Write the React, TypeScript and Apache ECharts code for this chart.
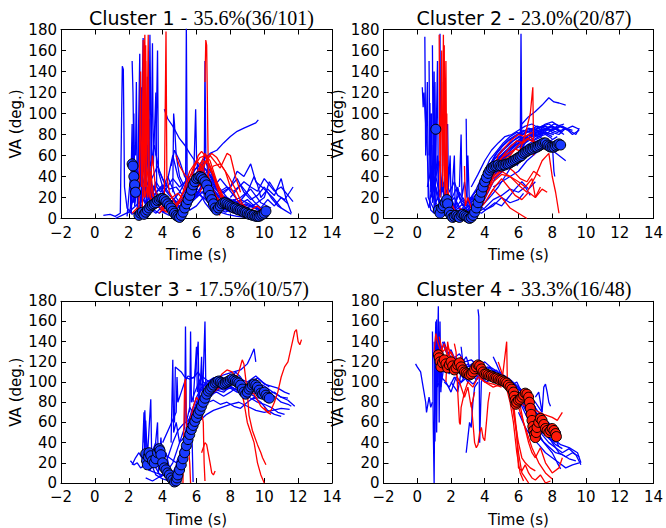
import React, { useEffect, useRef } from 'react';
import * as echarts from 'echarts';

// ---------- labels ----------
const clusterNames = ['Cluster 1', 'Cluster 2', 'Cluster 3', 'Cluster 4'];
const clusterStats = ['35.6%(36/101)', '23.0%(20/87)', '17.5%(10/57)', '33.3%(16/48)'];
const xLabel = 'Time (s)';
const yLabel = 'VA (deg.)';

// ---------- Cluster 1 (flat x,y lists) ----------
const c1Mean = [2.2,52, 2.25,50, 2.3,40, 2.35,32, 2.4,25, 2.6,3, 2.7,5, 2.8,6, 2.9,4, 3.0,6, 3.1,8, 3.2,10, 3.3,12, 3.4,13, 3.5,14, 3.6,15, 3.7,17, 3.8,18, 3.9,19, 4.0,19, 4.1,18, 4.2,16, 4.3,14, 4.4,12, 4.5,10, 4.6,7, 4.7,5, 4.8,3, 4.9,2, 5.0,1, 5.1,3, 5.2,6, 5.3,10, 5.4,14, 5.5,18, 5.6,22, 5.7,27, 5.8,32, 5.9,35, 6.0,38, 6.1,39, 6.2,40, 6.3,39, 6.4,37, 6.5,35, 6.6,32, 6.7,27, 6.8,22, 6.9,18, 7.0,14, 7.1,10, 7.2,8, 7.3,10, 7.4,12, 7.5,14, 7.6,15, 7.7,15, 7.8,14, 7.9,13, 8.0,12, 8.1,11, 8.2,10, 8.3,10, 8.4,9, 8.5,8, 8.6,8, 8.7,7, 8.8,6, 8.9,6, 9.0,5, 9.1,4, 9.2,4, 9.3,3, 9.4,3, 9.5,2, 9.6,2, 9.7,2, 9.8,3, 9.9,4, 10.0,5, 10.1,7];
const c1Blue = [
  [0.5,3, 0.9,4, 1.2,2, 1.5,5, 1.62,145, 1.68,142, 1.75,30, 1.9,10, 2.2,4, 2.6,8, 3.0,3],
  [2.2,150, 2.25,120, 2.3,60, 2.4,35, 2.6,20, 2.8,28, 3.0,15, 3.3,8, 3.7,18, 4.1,22, 4.5,10, 5.0,4, 5.6,12, 6.0,25, 6.5,30, 7.0,18, 7.5,10, 8.0,6],
  [2.5,8, 2.65,157, 2.7,40, 2.85,172, 2.9,60, 3.0,20, 3.2,95, 3.25,15, 3.5,30, 3.8,12, 4.2,18, 4.8,8, 5.5,20, 6.0,35, 6.5,28, 7.0,10],
  [3.3,20, 3.4,167, 3.45,50, 3.6,120, 3.65,30, 3.9,25, 4.3,40, 4.8,20, 5.2,10, 5.8,30, 6.2,45, 6.8,30, 7.4,15, 8.0,8, 8.6,5],
  [4.1,104, 4.3,95, 4.6,88, 5.0,76, 5.3,70, 5.6,62, 5.9,55, 6.2,48, 6.5,40, 6.9,30, 7.3,22, 7.8,18, 8.3,12, 8.8,10],
  [5.8,45, 6.1,50, 6.4,56, 6.8,62, 7.2,65, 7.6,72, 8.0,78, 8.4,83, 8.8,86, 9.2,89, 9.5,91, 9.65,94],
  [5.35,10, 5.4,185, 5.45,30, 5.6,15, 6.0,22, 6.4,35, 6.8,25, 7.2,12, 7.8,8, 8.4,4],
  [5.8,20, 5.95,104, 6.0,60, 6.1,40, 6.3,50, 6.6,35, 7.0,20, 7.5,12],
  [6.45,20, 6.5,150, 6.55,60, 6.7,40, 7.0,30, 7.5,22, 8.0,18, 8.5,15, 9.0,12, 9.5,10, 10.0,8],
  [8.5,15, 9.0,25, 9.4,40, 9.6,32, 9.8,20, 10.2,28, 10.6,22, 11.0,38, 11.3,18, 11.6,5],
  [9.0,10, 9.5,14, 10.0,20, 10.3,35, 10.5,30, 10.8,22, 11.2,18, 11.5,25, 11.7,30],
  [7.5,25, 8.0,30, 8.4,45, 8.8,40, 9.2,52, 9.5,35, 10.0,28, 10.5,20, 11.0,10],
  [1.9,2, 2.1,40, 2.15,5, 2.3,70, 2.35,12, 2.5,30, 2.7,110, 2.75,20, 3.0,35, 3.3,10, 3.8,5, 4.5,15, 5.0,25, 5.5,40, 6.0,30, 6.5,15, 7.0,5],
  [3.0,40, 3.1,135, 3.15,60, 3.3,50, 3.5,70, 3.8,45, 4.2,30, 4.6,60, 4.9,40, 5.3,25, 5.8,38, 6.3,52, 6.8,40, 7.3,25, 7.8,14, 8.3,10, 9.0,5],
  [4.5,50, 4.7,65, 5.0,55, 5.3,40, 5.7,30, 6.1,44, 6.5,55, 6.9,42, 7.3,30, 7.8,20, 8.4,15, 9.0,10, 9.6,5, 10.2,3],
  [2.8,0, 3.2,10, 3.6,5, 4.0,12, 4.5,8, 5.0,15, 5.5,28, 6.0,36, 6.5,32, 7.0,20, 7.6,12, 8.2,18, 8.8,10, 9.4,6, 10.0,4],
  [3.6,60, 3.7,160, 3.75,45, 4.0,30, 4.4,22, 4.9,15, 5.4,20, 5.9,30, 6.4,45, 6.9,35, 7.4,22, 8.0,16, 8.6,20, 9.2,28, 9.8,15, 10.4,10],
  [2.0,5, 2.3,20, 2.6,45, 2.7,10, 2.9,55, 3.0,25, 3.2,40, 3.5,22, 3.9,30, 4.3,18, 4.7,12, 5.1,20, 5.5,32, 5.9,42, 6.3,38, 6.7,28, 7.1,18, 7.6,10, 8.2,6, 8.8,4],
  [1.2,0, 1.6,3, 2.0,6, 2.4,12, 2.8,18, 3.2,14, 3.6,25, 4.0,32, 4.4,24, 4.8,15, 5.2,8, 5.6,18, 6.0,28, 6.4,40, 6.8,34, 7.2,20, 7.6,14, 8.0,10, 8.5,7, 9.0,5, 9.5,4],
  [2.4,60, 2.45,130, 2.5,30, 2.6,15, 2.9,10, 3.3,25, 3.7,12, 4.1,6, 4.6,10, 5.1,16, 5.6,24, 6.1,34, 6.6,30, 7.1,16, 7.6,8, 8.1,12, 8.6,18, 9.1,14, 9.6,8, 10.1,5],
  [3.2,75, 3.25,175, 3.3,90, 3.35,20, 3.6,35, 4.0,25, 4.4,12, 4.9,6, 5.4,12, 5.9,22, 6.4,30, 6.9,24, 7.4,14, 7.9,9, 8.4,6],
  [2.9,48, 2.95,160, 3.0,30, 3.1,70, 3.2,18, 3.5,10, 3.9,15, 4.3,8, 4.7,3],
  [6.0,20, 6.3,32, 6.6,45, 6.9,40, 7.2,30, 7.6,24, 8.0,30, 8.4,38, 8.8,25, 9.2,18, 9.6,22, 10.0,30, 10.4,20, 10.8,12, 11.2,8, 11.6,4],
  [4.6,25, 4.65,100, 4.7,90, 4.8,60, 5.0,40, 5.3,30, 5.7,26, 6.1,35, 6.5,38, 6.9,28, 7.3,20, 7.8,16, 8.3,12],
  [5.0,5, 5.4,10, 5.8,18, 6.2,26, 6.6,22, 7.0,12, 7.4,6, 7.8,4, 8.4,2, 9.0,1, 9.6,3, 10.2,2],
  [7.0,30, 7.4,38, 7.8,30, 8.2,26, 8.6,32, 9.0,24, 9.4,16, 9.8,10, 10.2,18, 10.6,12, 11.0,20, 11.4,14],
  [2.1,10, 2.2,90, 2.25,15, 2.5,25, 2.8,40, 3.1,20, 3.4,32, 3.8,20, 4.2,10, 4.6,18, 5.0,10, 5.4,24, 5.8,30, 6.2,22, 6.6,18, 7.0,26, 7.4,20, 7.8,12],
  [2.7,30, 2.75,125, 2.8,15, 3.0,50, 3.05,10, 3.3,36, 3.7,50, 4.0,38, 4.4,28, 4.8,30, 5.2,22, 5.6,14, 6.0,20, 6.4,26, 6.8,18, 7.2,10, 7.7,6, 8.3,10, 8.9,14, 9.5,10, 10.0,6],
  [3.4,10, 3.8,20, 4.2,28, 4.6,38, 5.0,30, 5.4,36, 5.8,44, 6.2,52, 6.6,46, 7.0,36, 7.4,26, 7.8,30, 8.2,22, 8.6,14, 9.0,18, 9.4,12, 9.8,8],
  [2.3,100, 2.35,30, 2.45,50, 2.55,8, 2.8,20, 3.2,6, 3.6,16, 4.0,6, 4.4,3, 4.8,10, 5.2,14, 5.6,8, 6.0,12, 6.4,20, 6.8,14, 7.2,6],
  [8.0,20, 8.4,28, 8.8,35, 9.2,30, 9.6,26, 10.0,38, 10.3,32, 10.6,26, 11.0,30, 11.4,22, 11.7,16],
];
const c1Red = [
  [2.6,10, 2.7,140, 2.75,30, 2.95,175, 3.0,60, 3.1,20, 3.3,45, 3.5,15, 4.0,8, 4.5,5],
  [3.0,30, 3.15,120, 3.2,20, 3.4,60, 3.6,25, 4.0,15, 4.5,10, 5.0,5],
  [4.1,20, 4.2,178, 4.25,40, 4.4,25, 4.8,12, 5.3,20, 5.8,35, 6.2,50, 6.5,62, 6.8,55, 7.2,35, 7.6,20, 8.0,10],
  [6.5,130, 6.55,170, 6.6,165, 6.7,40, 6.9,30, 7.2,20, 7.6,12, 8.0,8],
  [5.0,10, 5.5,25, 5.8,45, 6.1,60, 6.3,64, 6.6,58, 6.9,45, 7.2,30, 7.5,18, 8.0,8],
  [5.4,5, 5.8,20, 6.2,40, 6.5,52, 6.8,60, 7.1,54, 7.4,48, 7.8,62, 8.0,60, 8.3,40, 8.6,25],
  [4.8,60, 5.0,50, 5.3,42, 5.6,36, 6.0,30, 6.4,35, 6.8,28, 7.2,20, 7.8,10, 8.5,5, 9.2,3, 10.0,1],
  [3.8,5, 4.3,15, 4.8,10, 5.2,25, 5.6,45, 6.0,55, 6.4,48, 6.7,30, 7.0,10, 7.4,3],
  [2.2,5, 2.5,10, 2.8,8, 3.0,165, 3.05,50, 3.3,20, 3.6,12],
  [2.9,20, 3.0,150, 3.05,30, 3.15,175, 3.2,40, 3.4,22, 3.8,14, 4.2,6, 4.6,10, 5.0,18, 5.4,30, 5.8,48, 6.2,58, 6.5,60, 6.8,50, 7.1,38, 7.5,22, 8.0,12],
  [5.6,15, 5.9,30, 6.2,46, 6.4,55, 6.7,52, 7.0,40, 7.3,26, 7.7,14, 8.1,6],
  [6.2,25, 6.6,40, 7.0,50, 7.4,52, 7.7,45, 8.0,30, 8.4,18, 8.8,10, 9.2,8, 9.6,12, 10.0,6],
  [3.9,8, 4.4,18, 4.9,24, 5.4,15, 5.9,28, 6.4,34, 6.9,26, 7.4,14, 7.9,8],
  [2.8,40, 2.85,170, 2.9,100, 2.95,20, 3.1,30, 3.4,12, 3.8,20, 4.2,12, 4.6,6],
  [6.0,30, 6.3,48, 6.6,56, 6.9,62, 7.2,58, 7.5,50, 7.9,40, 8.3,28, 8.7,14, 9.1,8],
];

// ---------- Cluster 2 ----------
const c2Mean = [1.1,85, 1.25,8, 1.35,5, 1.45,10, 1.55,12, 1.65,15, 1.75,18, 1.8,14, 1.9,6, 2.0,3, 2.1,1, 2.2,2, 2.3,3, 2.4,2, 2.5,1, 2.6,3, 2.7,4, 2.8,3, 2.9,2, 3.0,1, 3.1,0, 3.2,1, 3.3,3, 3.4,6, 3.5,10, 3.6,15, 3.7,20, 3.8,25, 3.9,30, 4.0,35, 4.1,39, 4.2,43, 4.3,46, 4.4,48, 4.5,49, 4.6,50, 4.7,50, 4.8,51, 4.9,50, 5.0,50, 5.1,51, 5.2,51, 5.3,52, 5.4,52, 5.5,53, 5.6,54, 5.7,55, 5.8,56, 5.9,57, 6.0,58, 6.1,59, 6.2,60, 6.3,62, 6.4,63, 6.5,64, 6.6,65, 6.7,66, 6.8,66, 6.9,67, 7.0,68, 7.1,68, 7.2,69, 7.3,70, 7.4,71, 7.5,72, 7.6,72, 7.7,70, 7.8,69, 7.9,68, 8.0,68, 8.1,68, 8.2,69, 8.3,70, 8.4,71, 8.5,70];
const c2Blue = [
  [0.3,125, 0.35,106, 0.4,120, 0.5,90, 0.6,60, 0.7,20, 0.8,8, 1.0,5, 1.3,10, 1.6,3, 2.0,8, 2.5,4, 3.0,12, 3.5,20, 4.0,35, 4.5,50, 5.0,60, 5.5,66, 6.0,72, 6.5,78, 7.0,82, 7.5,85, 8.0,84, 8.5,88],
  [0.45,173, 0.5,60, 0.6,130, 0.65,20, 0.8,15, 1.0,8, 1.3,5, 1.8,2, 2.3,6, 2.8,3, 3.3,10, 3.8,28, 4.3,45, 4.8,58, 5.3,65, 5.8,70, 6.3,74, 6.8,78, 7.3,80, 7.8,85, 8.3,82, 8.8,86, 9.2,80, 9.6,84],
  [0.9,165, 0.95,30, 1.0,140, 1.05,10, 1.2,150, 1.25,20, 1.4,5, 1.7,12, 2.0,3, 2.5,8, 3.0,2, 3.4,5, 3.8,15, 4.2,30, 4.6,45, 5.0,55, 5.5,62, 6.0,70, 6.5,76, 7.0,80, 7.5,82, 8.0,78],
  [1.35,176, 1.4,20, 1.5,40, 1.6,10, 1.8,25, 2.0,8, 2.3,15, 2.6,5, 3.0,3, 3.5,12, 4.0,30, 4.5,40, 5.0,50, 5.5,56, 6.0,62, 6.5,70, 7.0,75, 7.4,78],
  [2.9,95, 2.95,20, 3.0,60, 3.1,10, 3.3,20, 3.6,8, 4.0,15, 4.4,22, 4.8,30, 5.2,40, 5.6,50, 6.0,60, 6.4,72, 6.8,80, 7.2,78, 7.6,82, 8.1,80],
  [5.9,50, 6.1,55, 6.15,176, 6.2,65, 6.3,70, 6.5,75, 6.8,80, 7.2,82, 7.6,86, 8.0,84, 8.4,87],
  [6.2,90, 6.6,97, 7.0,102, 7.4,108, 7.8,115, 8.1,111, 8.4,110, 8.8,108],
  [3.5,5, 4.0,10, 4.5,18, 5.0,22, 5.5,28, 6.0,25, 6.4,30, 6.7,22],
  [4.5,30, 5.0,35, 5.5,40, 6.0,45, 6.5,55, 7.0,62, 7.5,68, 8.0,73, 8.1,45, 8.15,40],
  [2.0,10, 2.2,60, 2.25,5, 2.4,30, 2.6,15, 3.0,8, 3.5,18, 4.0,40, 4.5,55, 5.0,65, 5.5,72, 6.0,78, 6.5,82, 7.0,85, 7.5,88, 8.0,86, 8.5,84],
  [0.6,30, 0.8,45, 1.0,25, 1.2,60, 1.3,15, 1.5,20, 1.8,10, 2.2,5, 2.6,2, 3.0,0, 3.4,3, 3.8,12, 4.2,25, 4.6,38, 5.0,44, 5.5,50, 6.0,55, 6.5,60, 7.0,64, 7.5,68, 8.0,65, 8.4,60, 8.8,55],
  [1.5,50, 1.6,110, 1.65,30, 1.8,8, 2.2,3, 2.8,6, 3.3,2, 3.6,8, 4.0,22, 4.4,38, 4.8,48, 5.2,58, 5.6,64, 6.0,68, 6.4,72, 6.8,76, 7.2,80, 7.6,84, 8.0,88, 8.4,85],
  [2.4,5, 2.8,12, 3.2,20, 3.6,15, 4.0,8, 4.5,12, 5.0,20, 5.5,15, 6.0,18, 6.3,24],
  [0.7,150, 0.75,40, 0.85,100, 0.9,15, 1.1,30, 1.4,12, 1.9,20, 2.3,8, 2.7,14, 3.1,4, 3.6,18, 4.1,36, 4.6,52, 5.1,62, 5.6,70, 6.1,76, 6.6,80, 7.1,84, 7.6,80, 8.1,86, 8.6,82],
  [0.7,60, 0.75,110, 0.8,25, 1.0,40, 1.2,18, 1.5,30, 1.8,12, 2.2,20, 2.6,8, 3.0,5, 3.4,12, 3.8,30, 4.2,48, 4.6,60, 5.0,68, 5.4,74, 5.8,78, 6.2,82, 6.6,86, 7.0,84, 7.4,88, 7.8,90, 8.2,86, 8.6,88, 9.0,84, 9.4,80, 9.6,86],
  [1.0,70, 1.05,130, 1.1,40, 1.3,25, 1.6,35, 1.9,15, 2.3,10, 2.7,20, 3.1,10, 3.5,16, 3.9,32, 4.3,50, 4.7,62, 5.1,70, 5.5,76, 5.9,80, 6.3,84, 6.7,82, 7.1,86, 7.5,84, 7.9,88, 8.3,84, 8.7,80],
  [2.5,30, 2.6,80, 2.65,20, 2.8,35, 3.0,15, 3.3,22, 3.7,30, 4.1,42, 4.5,55, 4.9,62, 5.3,68, 5.7,74, 6.1,78, 6.5,84, 6.9,86, 7.3,82, 7.7,86, 8.1,90, 8.5,88, 8.9,84],
  [0.5,20, 0.7,10, 0.9,35, 1.1,15, 1.4,8, 1.7,18, 2.0,12, 2.4,5, 2.8,10, 3.2,6, 3.6,20, 4.0,40, 4.4,52, 4.8,56, 5.2,62, 5.6,68, 6.0,74, 6.4,78, 6.8,74, 7.2,78, 7.6,80, 8.0,76],
  [3.0,20, 3.4,8, 3.8,5, 4.2,10, 4.6,15, 5.0,12, 5.4,20, 5.8,28, 6.2,35, 6.6,28, 7.0,35],
  [4.0,30, 4.4,42, 4.8,52, 5.2,60, 5.6,66, 6.0,72, 6.4,76, 6.8,78, 7.2,84, 7.6,88, 8.0,82, 8.4,80, 8.8,86, 9.2,84],
  [1.8,90, 1.85,30, 1.95,60, 2.0,20, 2.2,12, 2.5,25, 2.8,15, 3.1,8, 3.5,6, 3.9,20, 4.3,35, 4.7,44, 5.1,48, 5.5,56, 5.9,62, 6.3,66, 6.7,70, 7.1,74, 7.5,76, 7.9,74, 8.3,78],
  [0.8,100, 0.85,20, 0.95,70, 1.0,10, 1.2,20, 1.5,6, 1.9,14, 2.3,28, 2.7,12, 3.1,18, 3.5,28, 3.9,42, 4.3,56, 4.7,64, 5.1,72, 5.5,78, 5.9,82, 6.3,80, 6.7,84, 7.1,88, 7.5,86, 7.9,84, 8.3,88, 8.7,90],
  [1.1,40, 1.3,55, 1.5,25, 1.7,40, 1.9,25, 2.2,35, 2.5,20, 2.9,12, 3.3,20, 3.7,25, 4.1,38, 4.5,48, 4.9,55, 5.3,60, 5.7,58, 6.1,64, 6.5,68, 6.9,70, 7.3,74],
  [3.2,30, 3.6,42, 4.0,55, 4.4,65, 4.8,72, 5.2,78, 5.6,80, 6.0,84, 6.4,88, 6.8,90, 7.2,86, 7.6,90, 8.0,92, 8.4,88, 8.8,85, 9.2,88, 9.6,85],
];
const c2Red = [
  [1.3,175, 1.35,20, 1.45,160, 1.5,30, 1.6,165, 1.65,10, 1.75,100, 1.8,20, 2.0,8, 2.5,3, 3.0,5, 3.5,10, 4.0,30, 4.5,45, 5.0,55, 5.5,60, 6.0,70, 6.5,76, 7.0,72],
  [1.55,130, 1.6,40, 1.7,150, 1.75,30, 1.9,20, 2.2,8, 2.6,4, 3.0,2, 3.5,8, 4.0,25, 4.5,38, 5.0,45, 5.5,40, 6.0,35, 6.4,30, 6.8,38, 7.0,20, 7.3,30],
  [2.8,50, 2.85,12, 3.0,20, 3.3,5, 3.6,15, 4.0,30, 4.5,45, 5.0,52, 5.5,55, 6.0,60, 6.4,80, 6.7,100, 6.85,125, 6.9,60],
  [3.5,5, 4.0,20, 4.5,35, 5.0,42, 5.5,40, 6.0,32, 6.5,25, 7.0,40, 7.4,55, 7.8,62, 8.0,40, 8.2,25, 8.4,5],
  [4.2,20, 4.6,30, 5.0,38, 5.4,30, 5.8,22, 6.2,18, 6.6,25, 7.0,20, 7.4,28, 7.7,25],
  [2.5,10, 3.0,3, 3.5,6, 4.0,15, 4.5,28, 5.0,20, 5.5,10, 6.0,5, 6.5,0],
  [3.8,12, 4.3,35, 4.8,60, 5.2,68, 5.6,75, 6.0,80, 6.4,78, 6.8,82],
  [3.9,20, 4.3,30, 4.7,50, 5.1,60, 5.5,68, 5.9,74, 6.3,72, 6.7,78, 7.1,70],
  [4.5,40, 4.9,45, 5.3,50, 5.7,45, 6.1,38, 6.5,35, 6.9,45, 7.3,40],
  [1.5,60, 1.55,175, 1.6,50, 1.7,20, 1.9,10, 2.3,5, 2.8,8, 3.3,3, 3.8,15, 4.2,35, 4.6,50, 5.0,58, 5.4,62, 5.8,66, 6.2,64, 6.6,70],
];

// ---------- Cluster 3 ----------
const c3Mean = [3.0,29, 3.05,22, 3.1,18, 3.15,26, 3.2,30, 3.3,27, 3.4,22, 3.5,20, 3.6,24, 3.7,30, 3.8,34, 3.85,32, 3.9,28, 4.0,20, 4.1,15, 4.2,13, 4.3,10, 4.4,8, 4.5,5, 4.6,3, 4.7,1, 4.8,2, 4.85,5, 4.9,8, 5.0,13, 5.1,18, 5.2,24, 5.3,30, 5.4,37, 5.5,43, 5.6,48, 5.7,53, 5.8,57, 5.9,61, 6.0,65, 6.1,69, 6.2,72, 6.3,76, 6.4,80, 6.5,84, 6.6,88, 6.7,91, 6.8,93, 6.9,95, 7.0,97, 7.1,99, 7.2,100, 7.3,101, 7.4,100, 7.5,99, 7.6,98, 7.7,99, 7.8,100, 7.9,101, 8.0,102, 8.1,103, 8.2,102, 8.3,101, 8.4,100, 8.5,99, 8.6,97, 8.7,93, 8.8,90, 8.9,88, 9.0,90, 9.1,93, 9.2,95, 9.3,97, 9.4,98, 9.5,97, 9.6,95, 9.7,92, 9.8,89, 9.9,88, 10.0,90, 10.1,87, 10.2,85, 10.3,84];
const c3Blue = [
  [2.1,22, 2.3,18, 2.5,20, 2.7,15, 3.0,18, 3.3,12, 3.6,10, 4.0,8, 4.4,5, 4.8,3, 5.2,20, 5.6,45, 6.0,65, 6.4,80, 6.8,90, 7.2,95, 7.6,92, 8.0,94, 8.4,90, 8.8,88, 9.2,84, 9.6,80, 10.0,78, 10.4,75, 10.8,70, 11.2,68],
  [2.2,18, 2.4,25, 2.6,30, 2.8,24, 2.9,70, 2.95,20, 3.0,62, 3.1,25, 3.3,83, 3.35,30, 3.6,40, 3.8,20, 4.2,15, 4.6,10, 5.0,25, 5.4,50, 5.8,70, 6.2,85, 6.6,92, 7.0,96, 7.4,98, 7.8,102, 8.2,104, 8.6,100, 9.0,96, 9.4,98, 9.8,94, 10.2,90, 10.6,86, 11.0,80, 11.4,78, 11.6,76],
  [3.5,25, 3.7,60, 3.75,10, 3.9,45, 4.0,20, 4.2,30, 4.4,15, 4.6,5, 4.8,0],
  [4.5,40, 4.6,122, 4.65,50, 4.8,60, 5.0,40, 5.3,55, 5.35,155, 5.4,60, 5.6,75, 5.8,70, 6.0,80, 6.2,90, 6.5,97, 6.9,100, 7.3,99, 7.8,103, 8.2,100, 8.6,98, 9.0,95, 9.4,97, 9.8,92, 10.2,88, 10.6,90, 11.0,85, 11.4,82, 11.8,76],
  [4.7,60, 4.75,115, 5.1,110, 5.3,105, 5.6,103, 5.9,105, 6.1,140, 6.15,70, 6.3,125, 6.35,80, 6.5,160, 6.55,95, 6.7,100, 7.0,104, 7.4,106, 7.8,108, 8.2,110, 8.6,112, 9.0,118, 9.2,125, 9.4,133, 9.5,120],
  [5.5,50, 5.8,60, 6.1,70, 6.4,76, 6.7,80, 7.0,82, 7.4,78, 7.8,80, 8.2,76, 8.6,74, 9.0,80, 9.4,85, 9.8,80, 10.2,72, 10.6,68, 11.0,66],
  [5.0,30, 5.4,45, 5.8,55, 6.2,62, 6.6,68, 7.0,72, 7.5,75, 8.0,78, 8.5,80, 9.0,76, 9.5,72, 10.0,70, 10.5,72, 11.0,74, 11.5,73],
  [2.8,25, 3.0,15, 3.3,20, 3.6,8, 4.0,4, 4.4,2, 4.8,8, 5.1,30, 5.4,55, 5.7,70, 6.0,85, 6.3,95, 6.6,100, 7.0,104, 7.5,105, 8.0,100, 8.5,104, 9.0,100, 9.5,106, 9.9,100, 10.3,95],
  [5.8,80, 6.0,135, 6.05,90, 6.2,100, 6.5,92, 6.8,88, 7.2,90, 7.6,86, 8.0,90, 8.4,95, 8.8,92, 9.2,100, 9.6,104, 10.0,98, 10.4,96, 10.8,94, 11.2,90, 11.5,88],
  [3.0,5, 3.4,2, 3.8,6, 4.2,10, 4.6,20, 5.0,40, 5.4,48, 5.7,70, 5.8,1],
  [3.2,30, 3.6,35, 4.0,30, 4.4,25, 4.8,20, 5.2,35, 5.6,50, 6.0,62, 6.4,72, 6.8,85, 7.2,92, 7.6,95],
  [7.8,95, 8.0,100, 8.3,110, 8.6,105, 9.0,95, 9.5,100, 10.0,96, 10.5,90, 11.0,85, 11.4,84],
  [2.9,40, 2.95,72, 3.05,20, 3.2,12, 3.5,18, 3.9,6, 4.3,12, 4.7,4, 5.0,10],
  [4.0,40, 4.4,55, 4.8,70, 4.85,105, 4.9,80, 5.1,90, 5.3,100, 5.5,106, 5.8,104, 6.1,110, 6.4,100, 6.8,96, 7.2,94, 7.6,98, 8.0,95, 8.4,92, 8.8,96, 9.2,90, 9.6,88, 10.0,85],
  [3.6,15, 3.8,30, 4.0,10, 4.3,25, 4.6,40, 4.9,52, 5.2,58, 5.5,62, 5.8,68, 6.1,74, 6.4,82, 6.8,88, 7.2,92, 7.6,90, 8.0,96, 8.4,92, 8.8,86, 9.2,88, 9.6,84, 10.0,86, 10.4,82],
  [5.6,70, 5.65,150, 5.7,80, 5.9,90, 6.1,98, 6.3,106, 6.6,102, 7.0,98, 7.4,100, 7.8,96],
];
const c3Red = [
  [5.2,0, 5.3,100, 5.35,103, 5.4,60, 5.5,40, 5.6,20, 5.65,0],
  [6.3,30, 6.5,40, 6.6,38, 6.8,20, 6.9,10, 7.0,8, 7.1,12],
  [6.6,85, 6.9,95, 7.2,100, 7.5,108, 7.8,112, 8.1,110, 8.3,105, 8.6,95, 8.8,80, 9.0,60, 9.2,50, 9.4,40, 9.6,20, 9.8,8, 10.0,0],
  [8.2,100, 8.5,110, 8.7,122, 8.8,118, 9.0,90, 9.1,67, 9.3,52, 9.6,38, 9.8,30, 9.9,25, 10.1,18],
  [10.0,75, 10.2,70, 10.4,72, 10.6,80, 10.8,90, 11.0,105, 11.2,115, 11.4,120, 11.6,135, 11.8,150, 11.9,152, 12.0,140, 12.1,137, 12.2,142],
  [7.0,90, 7.4,95, 7.8,98, 8.2,100, 8.6,98, 9.0,92, 9.4,88, 9.8,76, 10.2,70, 10.4,68],
  [5.6,60, 5.8,75, 6.0,85, 6.2,80, 6.4,60, 6.45,20, 6.5,2],
];

// ---------- Cluster 4 ----------
const c4Mean = [1.25,127, 1.3,124, 1.35,120, 1.4,115, 1.5,119, 1.6,122, 1.7,118, 1.8,114, 1.9,117, 2.0,120, 2.1,116, 2.2,112, 2.3,114, 2.4,117, 2.5,119, 2.6,115, 2.7,112, 2.8,110, 2.9,109, 3.0,108, 3.1,107, 3.2,108, 3.3,110, 3.4,113, 3.5,115, 3.6,117, 3.7,116, 3.8,113, 3.9,110, 4.0,108, 4.1,108, 4.2,107, 4.3,106, 4.4,106, 4.5,105, 4.6,104, 4.7,104, 4.8,103, 4.9,102, 5.0,102, 5.1,101, 5.2,100, 5.3,99, 5.4,97, 5.5,95, 5.6,93, 5.7,90, 5.75,86, 5.8,82, 5.85,78, 5.9,80, 6.0,82, 6.1,83, 6.2,85, 6.3,87, 6.4,89, 6.5,88, 6.6,85, 6.65,80, 6.7,74, 6.75,68, 6.8,62, 6.85,56, 6.9,52, 6.95,48, 7.0,45, 7.05,50, 7.1,55, 7.2,60, 7.3,64, 7.4,62, 7.5,58, 7.6,54, 7.7,52, 7.8,50, 7.9,52, 8.0,54, 8.1,52, 8.2,49, 8.25,46];
const c4Blue = [
  [-0.1,118, 0.0,115, 0.2,110, 0.3,100, 0.4,90, 0.5,80, 0.55,70, 0.6,75, 0.7,85, 0.8,75, 0.9,80],
  [0.9,150, 0.95,55, 1.0,0, 1.05,120, 1.1,160, 1.15,50, 1.2,140, 1.3,100, 1.4,120, 1.6,110, 1.9,115, 2.2,108, 2.6,110, 3.0,105, 3.4,112, 3.8,108, 4.2,104, 4.6,100, 5.0,98, 5.4,92, 5.8,85, 6.2,80, 6.6,70, 7.0,60, 7.4,50, 7.8,45, 8.2,40],
  [1.2,130, 1.25,175, 1.3,60, 1.35,160, 1.4,90, 1.5,130, 1.6,110, 1.8,125, 2.0,115, 2.3,120, 2.6,112, 3.0,118, 3.4,110, 3.8,115, 4.2,110, 4.6,106, 5.0,102, 5.4,98, 5.8,92, 6.2,88, 6.6,75, 7.0,60, 7.4,48, 7.8,40, 8.2,35, 8.6,30, 9.0,34, 9.4,28, 9.7,18],
  [1.0,140, 1.05,41, 1.1,130, 1.2,95, 1.4,105, 1.7,100, 2.0,90, 2.3,105, 2.6,100, 3.0,110, 3.5,105, 4.0,112, 4.5,108, 5.0,104, 5.5,100, 6.0,90, 6.5,80, 7.0,70, 7.5,60, 8.0,50, 8.4,36],
  [3.6,172, 3.65,165, 3.7,40, 3.8,100, 4.0,110, 4.3,115, 4.6,108, 5.0,105, 5.4,102, 5.8,95, 6.2,90, 6.6,85, 7.0,75],
  [2.9,30, 3.0,45, 3.1,60, 3.2,55, 3.3,80, 3.4,95, 3.6,100],
  [5.5,95, 6.0,85, 6.5,70, 7.0,55, 7.5,40, 8.0,30, 8.3,20, 8.5,14],
  [7.0,85, 7.2,90, 7.4,70, 7.5,95, 7.6,98, 7.7,90, 7.8,80, 7.9,76],
  [6.0,70, 6.4,55, 6.8,45, 7.2,38, 7.6,30, 8.0,25, 8.4,20, 8.8,15, 9.2,18, 9.6,20],
  [1.5,140, 1.7,130, 2.0,125, 2.3,118, 2.6,122, 3.0,115, 3.4,120, 3.8,112, 4.2,115, 4.6,110, 5.0,106, 5.4,104, 5.8,98, 6.2,92, 6.6,86, 7.0,80, 7.4,70],
  [2.0,100, 2.2,95, 2.4,90, 2.6,110, 2.8,105, 3.0,100, 3.2,108],
  [6.5,75, 7.0,68, 7.5,55, 8.0,45, 8.5,38, 9.0,35, 9.5,30, 9.7,20],
  [1.1,120, 1.15,162, 1.2,100, 1.3,150, 1.4,95, 1.6,118, 1.9,108, 2.3,124, 2.7,104, 3.1,112, 3.5,102, 3.9,118, 4.3,104, 4.7,112, 5.1,100, 5.5,96, 5.9,100, 6.3,86, 6.7,82, 7.1,72, 7.5,64, 7.9,58],
  [1.3,110, 1.5,125, 1.7,112, 2.0,118, 2.3,110, 2.6,116, 3.0,110, 3.4,114, 3.8,106, 4.2,110, 4.6,102, 5.0,100, 5.4,96, 5.8,88, 6.2,80, 6.6,72, 7.0,62, 7.4,52, 7.8,44, 8.2,38, 8.6,34],
  [1.6,100, 1.9,95, 2.2,105, 2.5,98, 2.9,104, 3.3,98, 3.7,106, 4.1,100, 4.5,104, 4.9,98, 5.3,94, 5.7,90, 6.1,86, 6.5,80, 6.9,72, 7.3,66, 7.7,60, 8.1,55, 8.5,50],
  [4.5,125, 4.7,118, 4.9,110, 5.2,104, 5.5,100, 5.8,92, 6.1,84, 6.4,78, 6.8,70, 7.2,60, 7.6,52, 8.0,40, 8.4,30, 8.8,26, 9.2,30, 9.6,26],
  [2.6,135, 2.7,120, 2.9,125, 3.1,115, 3.4,118, 3.7,110, 4.0,116, 4.3,108, 4.6,112],
  [1.4,130, 1.6,140, 1.8,128, 2.0,132, 2.2,124, 2.5,128, 2.8,120, 3.2,122, 3.6,116, 4.0,120, 4.4,114, 4.8,110, 5.2,106, 5.6,100, 6.0,94, 6.4,86, 6.8,78, 7.2,70, 7.6,60, 8.0,52],
  [5.8,90, 6.2,76, 6.6,62, 7.0,50, 7.4,42, 7.8,36, 8.2,30, 8.6,28, 9.0,24, 9.4,22],
];
const c4Red = [
  [1.0,130, 1.1,148, 1.2,140, 1.4,130, 1.6,138, 1.8,125, 2.0,130, 2.3,120, 2.6,125, 3.0,112, 3.5,115, 4.0,110, 4.5,105, 5.0,100, 5.5,92, 5.8,60, 6.0,30, 6.2,10, 6.4,5, 6.6,0],
  [2.2,138, 2.3,130, 2.4,90, 2.5,60, 2.55,58, 2.6,75, 2.8,90, 3.0,100, 3.3,95, 3.6,105, 4.0,100, 4.5,98, 5.0,95],
  [3.2,80, 3.3,60, 3.4,40, 3.5,35, 3.6,38, 3.7,50, 3.8,55, 3.9,45, 4.0,42, 4.1,60, 4.2,80, 4.3,90],
  [1.7,100, 1.8,140, 1.9,130, 2.0,110, 2.2,120, 2.5,115, 3.0,108, 3.5,110, 4.0,100, 4.5,95, 5.0,98, 5.3,140, 5.35,90, 5.5,80, 5.7,60, 5.9,30, 6.1,10, 6.3,2],
  [5.5,95, 5.7,80, 5.9,50, 6.0,15, 6.2,12, 6.4,18, 6.6,10, 6.8,5, 7.0,3, 7.3,8, 7.6,0, 7.9,2],
  [5.0,100, 5.5,90, 6.0,80, 6.5,75, 7.0,72, 7.5,68, 8.0,65, 8.3,62, 8.6,70],
  [6.0,85, 6.3,60, 6.6,40, 6.8,30, 7.0,25, 7.3,35, 7.6,20, 8.0,10, 8.4,15, 8.6,25],
  [2.0,120, 2.5,100, 2.8,85, 3.0,95, 3.2,75, 3.4,90],
  [1.3,145, 1.5,130, 1.8,135, 2.1,125, 2.4,118, 2.8,115, 3.2,110, 3.6,112, 4.0,106, 4.4,104, 4.8,102, 5.2,98, 5.6,90, 6.0,75, 6.4,55, 6.8,35, 7.2,20, 7.6,10, 8.0,4],
  [4.8,120, 5.0,110, 5.2,100, 5.4,94, 5.6,84, 5.8,60, 6.0,40, 6.2,25, 6.4,20, 6.7,15, 7.0,12],
];

const panelMeans = [c1Mean, c2Mean, c3Mean, c4Mean];
const panelBlue = [c1Blue, c2Blue, c3Blue, c4Blue];
const panelRed = [c1Red, c2Red, c3Red, c4Red];
const meanColors = ['#1a3aff', '#1a3aff', '#1a3aff', '#ff1a0a'];

const pairs = (a: number[]) => {
  const out: number[][] = [];
  for (let i = 0; i < a.length; i += 2) out.push([a[i], a[i + 1]]);
  return out;
};

const FONT = 'DejaVu Sans';

export default function App() {
  const ref = useRef<HTMLDivElement>(null);
  useEffect(() => {
    if (!ref.current) return;
    const chart = echarts.init(ref.current, undefined, { renderer: 'svg' });
    const grids = [
      { left: 61, top: 29.5, width: 271, height: 189 },
      { left: 383.5, top: 29.5, width: 271, height: 189 },
      { left: 61, top: 301.3, width: 271, height: 189.4 },
      { left: 383.5, top: 301.3, width: 271, height: 189.4 },
    ];
    const tickStyle = { show: true, inside: true, length: 5, lineStyle: { color: '#000', width: 1 } };
    const lineStyleAx = { show: true, onZero: false, lineStyle: { color: '#000', width: 1 } };
    const xAxes: any[] = [];
    const yAxes: any[] = [];
    grids.forEach((_, i) => {
      xAxes.push({
        type: 'value', gridIndex: i, min: -2, max: 14, interval: 2, position: 'bottom',
        axisLine: lineStyleAx, axisTick: tickStyle, splitLine: { show: false },
        axisLabel: {
          color: '#000', fontFamily: FONT, fontSize: 15, margin: 8, lineHeight: 12,
          formatter: (v: number) => (v < 0 ? '\u2212' + Math.abs(v) : String(v)),
        },
        name: xLabel, nameLocation: 'middle', nameGap: 29,
        nameTextStyle: { color: '#000', fontFamily: FONT, fontSize: 15 },
      });
      xAxes.push({
        type: 'value', gridIndex: i, min: -2, max: 14, interval: 2, position: 'top',
        axisLine: lineStyleAx, axisTick: tickStyle, splitLine: { show: false }, axisLabel: { show: false },
      });
      yAxes.push({
        type: 'value', gridIndex: i, min: 0, max: 180, interval: 20, position: 'left',
        axisLine: lineStyleAx, axisTick: tickStyle, splitLine: { show: false },
        axisLabel: { color: '#000', fontFamily: FONT, fontSize: 15, margin: 4, lineHeight: 12 },
        name: yLabel, nameLocation: 'middle', nameGap: 38, nameRotate: 90,
        nameTextStyle: { color: '#000', fontFamily: FONT, fontSize: 15 },
      });
      yAxes.push({
        type: 'value', gridIndex: i, min: 0, max: 180, interval: 20, position: 'right',
        axisLine: lineStyleAx, axisTick: tickStyle, splitLine: { show: false }, axisLabel: { show: false },
      });
    });

    const series: any[] = [];
    for (let i = 0; i < 4; i++) {
      const addLines = (list: number[][], color: string, z: number) => {
        list.forEach((t) => {
          series.push({
            type: 'line', xAxisIndex: 2 * i, yAxisIndex: 2 * i, data: pairs(t),
            symbol: 'none', silent: true, clip: true, z,
            lineStyle: { color, width: 1.3 },
          });
        });
      };
      addLines(panelBlue[i], '#0000ff', 2);
      addLines(panelRed[i], '#ff0000', 3);
      series.push({
        type: 'scatter', xAxisIndex: 2 * i, yAxisIndex: 2 * i, data: pairs(panelMeans[i]),
        symbol: 'circle', symbolSize: 10, silent: true, z: 5, clip: true,
        itemStyle: { color: meanColors[i], borderColor: '#000', borderWidth: 1, opacity: 1 },
      });
    }

    const titles = grids.map((g, i) => ({
      text: `${clusterNames[i]} - {m|${clusterStats[i]}}`,
      left: g.left + g.width / 2,
      top: i < 2 ? 3 : 274,
      textAlign: 'center',
      textStyle: {
        fontFamily: FONT, fontSize: 19, fontWeight: 'normal', color: '#000',
        rich: { m: { fontFamily: 'Liberation Serif', fontSize: 20, color: '#000' } },
      },
    }));

    chart.setOption({
      animation: false,
      backgroundColor: '#fff',
      title: titles,
      grid: grids,
      xAxis: xAxes,
      yAxis: yAxes,
      series,
    });
    return () => chart.dispose();
  }, []);
  return <div ref={ref} style={{ position: 'fixed', left: 0, top: 0, width: 666, height: 528 }} />;
}
